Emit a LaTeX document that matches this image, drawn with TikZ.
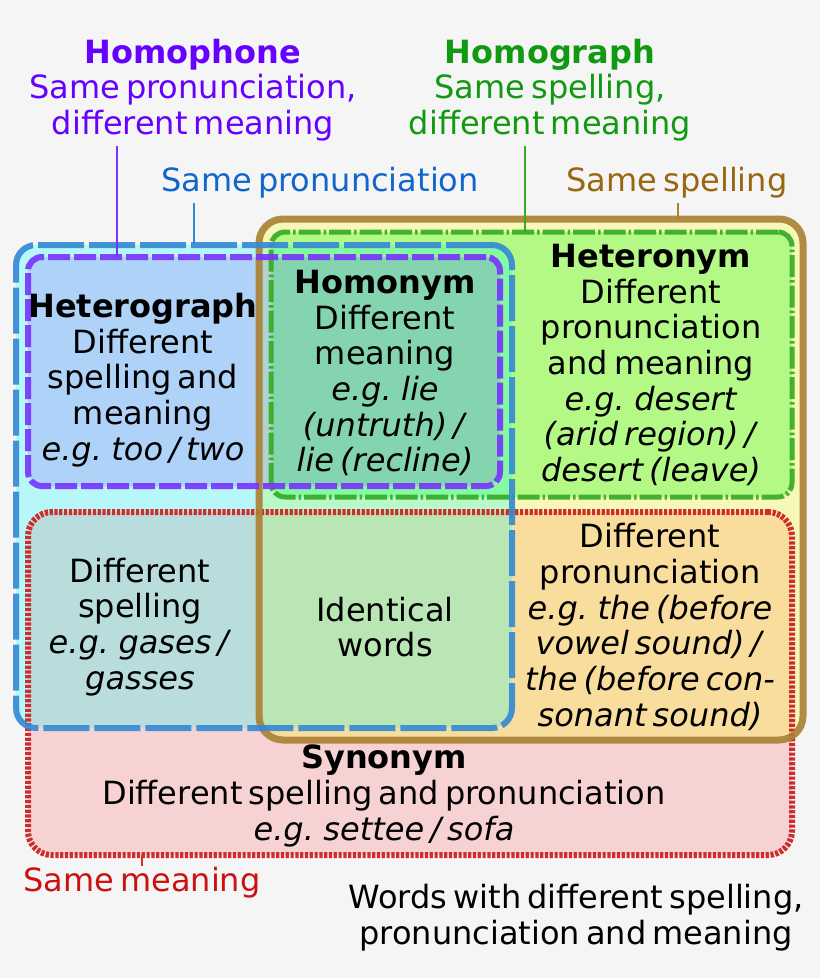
\documentclass[tikz,border=0pt]{standalone}
\usepackage{fontspec}
\setmainfont[WordSpace=0.6]{DejaVu Sans}
\usetikzlibrary{backgrounds}
\definecolor{hintergrund}{RGB}{245,245,245}
\definecolor{phonetext}{RGB}{102,0,255}
\definecolor{phonelinie}{RGB}{119,51,255}
\definecolor{graphtext}{RGB}{17,153,17}
\definecolor{graphlinie}{RGB}{51,170,34}
\definecolor{aussprtext}{RGB}{17,102,204}
\definecolor{ausprlinie}{RGB}{51,136,212}
\definecolor{schrifttext}{RGB}{153,102,17}
\definecolor{schriftlinie}{RGB}{170,128,51}
\definecolor{bedtext}{RGB}{204,17,17}
\definecolor{bedlinie}{RGB}{205,45,45}
\definecolor{rotfuell}{RGB}{255,70,70}
\definecolor{gelbfuell}{RGB}{255,255,0}
\definecolor{gruenfuell}{RGB}{0,255,0}
\definecolor{tuerkisfuell}{RGB}{0,255,255}
\definecolor{lilafuell}{RGB}{128,0,255}

\begin{document}
\begin{tikzpicture}[x=1pt,y=-1pt,
  every node/.style={inner sep=0pt,outer sep=0pt,align=center,font=\fontsize{32}{35.7}\selectfont},
  kasten/.style={minimum width=#1,draw opacity=.9},
  verbinder/.style={line width=2pt,draw=#1}]
%Hintergrund, alles in Pixeln vom Bild (y nach unten)
\begin{scope}[on background layer]
\fill[hintergrund] (0,0) rectangle (820,978);
\end{scope}
\useasboundingbox (0,0) rectangle (820,978);

%Die fuenf Mengen
\node[kasten=764pt,minimum height=343pt,rounded corners=24pt,draw=bedlinie,draw opacity=1,line width=6pt,dash pattern=on 3.2pt off 1.6pt] (bedeutung) at (410,683.5) {};
\node[kasten=544pt,minimum height=521pt,rounded corners=24pt,draw=schriftlinie,line width=7pt] (schrift) at (531,479.5) {};
\node[kasten=521pt,minimum height=265pt,rounded corners=14pt,draw=graphlinie,line width=5pt,dash pattern=on 22pt off 3pt on 2.5pt off 3pt] (graph) at (531.5,364.5) {};
\node[kasten=496pt,minimum height=483pt,rounded corners=20pt,draw=ausprlinie,line width=6pt,dash pattern=on 46pt off 5pt] (aussprache) at (264,486.5) {};
\node[kasten=472pt,minimum height=229pt,rounded corners=14pt,draw=phonelinie,line width=6pt,dash pattern=on 22pt off 4pt] (phone) at (264,371.5) {};

%Fuellungen halbdurchsichtig, Reihenfolge wie oben
\begin{scope}[on background layer]
\fill[rotfuell,fill opacity=.2,rounded corners=24pt] (bedeutung.north west) rectangle (bedeutung.south east);
\fill[gelbfuell,fill opacity=.25,rounded corners=24pt] (schrift.north west) rectangle (schrift.south east);
\fill[gruenfuell,fill opacity=.27,rounded corners=14pt] (graph.north west) rectangle (graph.south east);
\fill[tuerkisfuell,fill opacity=.25,rounded corners=20pt] (aussprache.north west) rectangle (aussprache.south east);
\fill[lilafuell,fill opacity=.15,rounded corners=14pt] (phone.north west) rectangle (phone.south east);
\end{scope}

%Beschriftungen oben
\node[text=phonetext] (phonetxt) at (193,90) {\textbf{Homophone}\\Same pronunciation,\\different meaning};
\node[text=graphtext] (graphtxt) at (550,90) {\textbf{Homograph}\\Same spelling,\\different meaning};
\node[text=aussprtext] (ausprtxt) at (320,183) {Same pronunciation};
\node[text=schrifttext] (schrifttxt) at (677,183) {Same spelling};

%Felder
\node (heterograph) at (143,380) {\textbf{Heterograph}\\Different\\spelling and\\meaning\\\textit{e.g. too / two}};
\node (homonym) at (385,373) {\textbf{Homonym}\\Different\\meaning\\\textit{e.g. lie}\\\textit{(untruth) /}\\\textit{lie (recline)}};
\node (heteronym) at (651,365) {\textbf{Heteronym}\\Different\\pronunciation\\and meaning\\\textit{e.g. desert}\\\textit{(arid region) /}\\\textit{desert (leave)}};
\node (schreibung) at (140,627) {Different\\spelling\\\textit{e.g. gases /}\\\textit{gasses}};
\node (gleich) at (385,627) {Identical\\words};
\node (aussprache2) at (650,627) {Different\\pronunciation\\\textit{e.g. the (before}\\\textit{vowel sound) /}\\\textit{the (before con-}\\\textit{sonant sound)}};
\node (synonym) at (384,796) {\textbf{Synonym}\\Different spelling and pronunciation\\\textit{e.g. settee / sofa}};
\node[text=bedtext] (bedtxt) at (142,883) {Same meaning};
\node (rest) at (576,918) {Words with different spelling,\\pronunciation and meaning};

%Verbindungslinien
\draw[verbinder=phonelinie] ([yshift=-5pt]phonetxt.south -| 117,0) -- (117,0 |- phone.north);
\draw[verbinder=ausprlinie] ([yshift=-5pt]ausprtxt.south -| 194,0) -- (194,0 |- aussprache.north);
\draw[verbinder=graphlinie] ([yshift=-5pt]graphtxt.south -| 525,0) -- (525,0 |- graph.north);
\draw[verbinder=schriftlinie] ([yshift=-5pt]schrifttxt.south -| 678,0) -- (678,0 |- schrift.north);
\draw[verbinder=bedlinie] (142,0 |- bedeutung.south) -- ([yshift=2pt]bedtxt.north);
\end{tikzpicture}
\end{document}
